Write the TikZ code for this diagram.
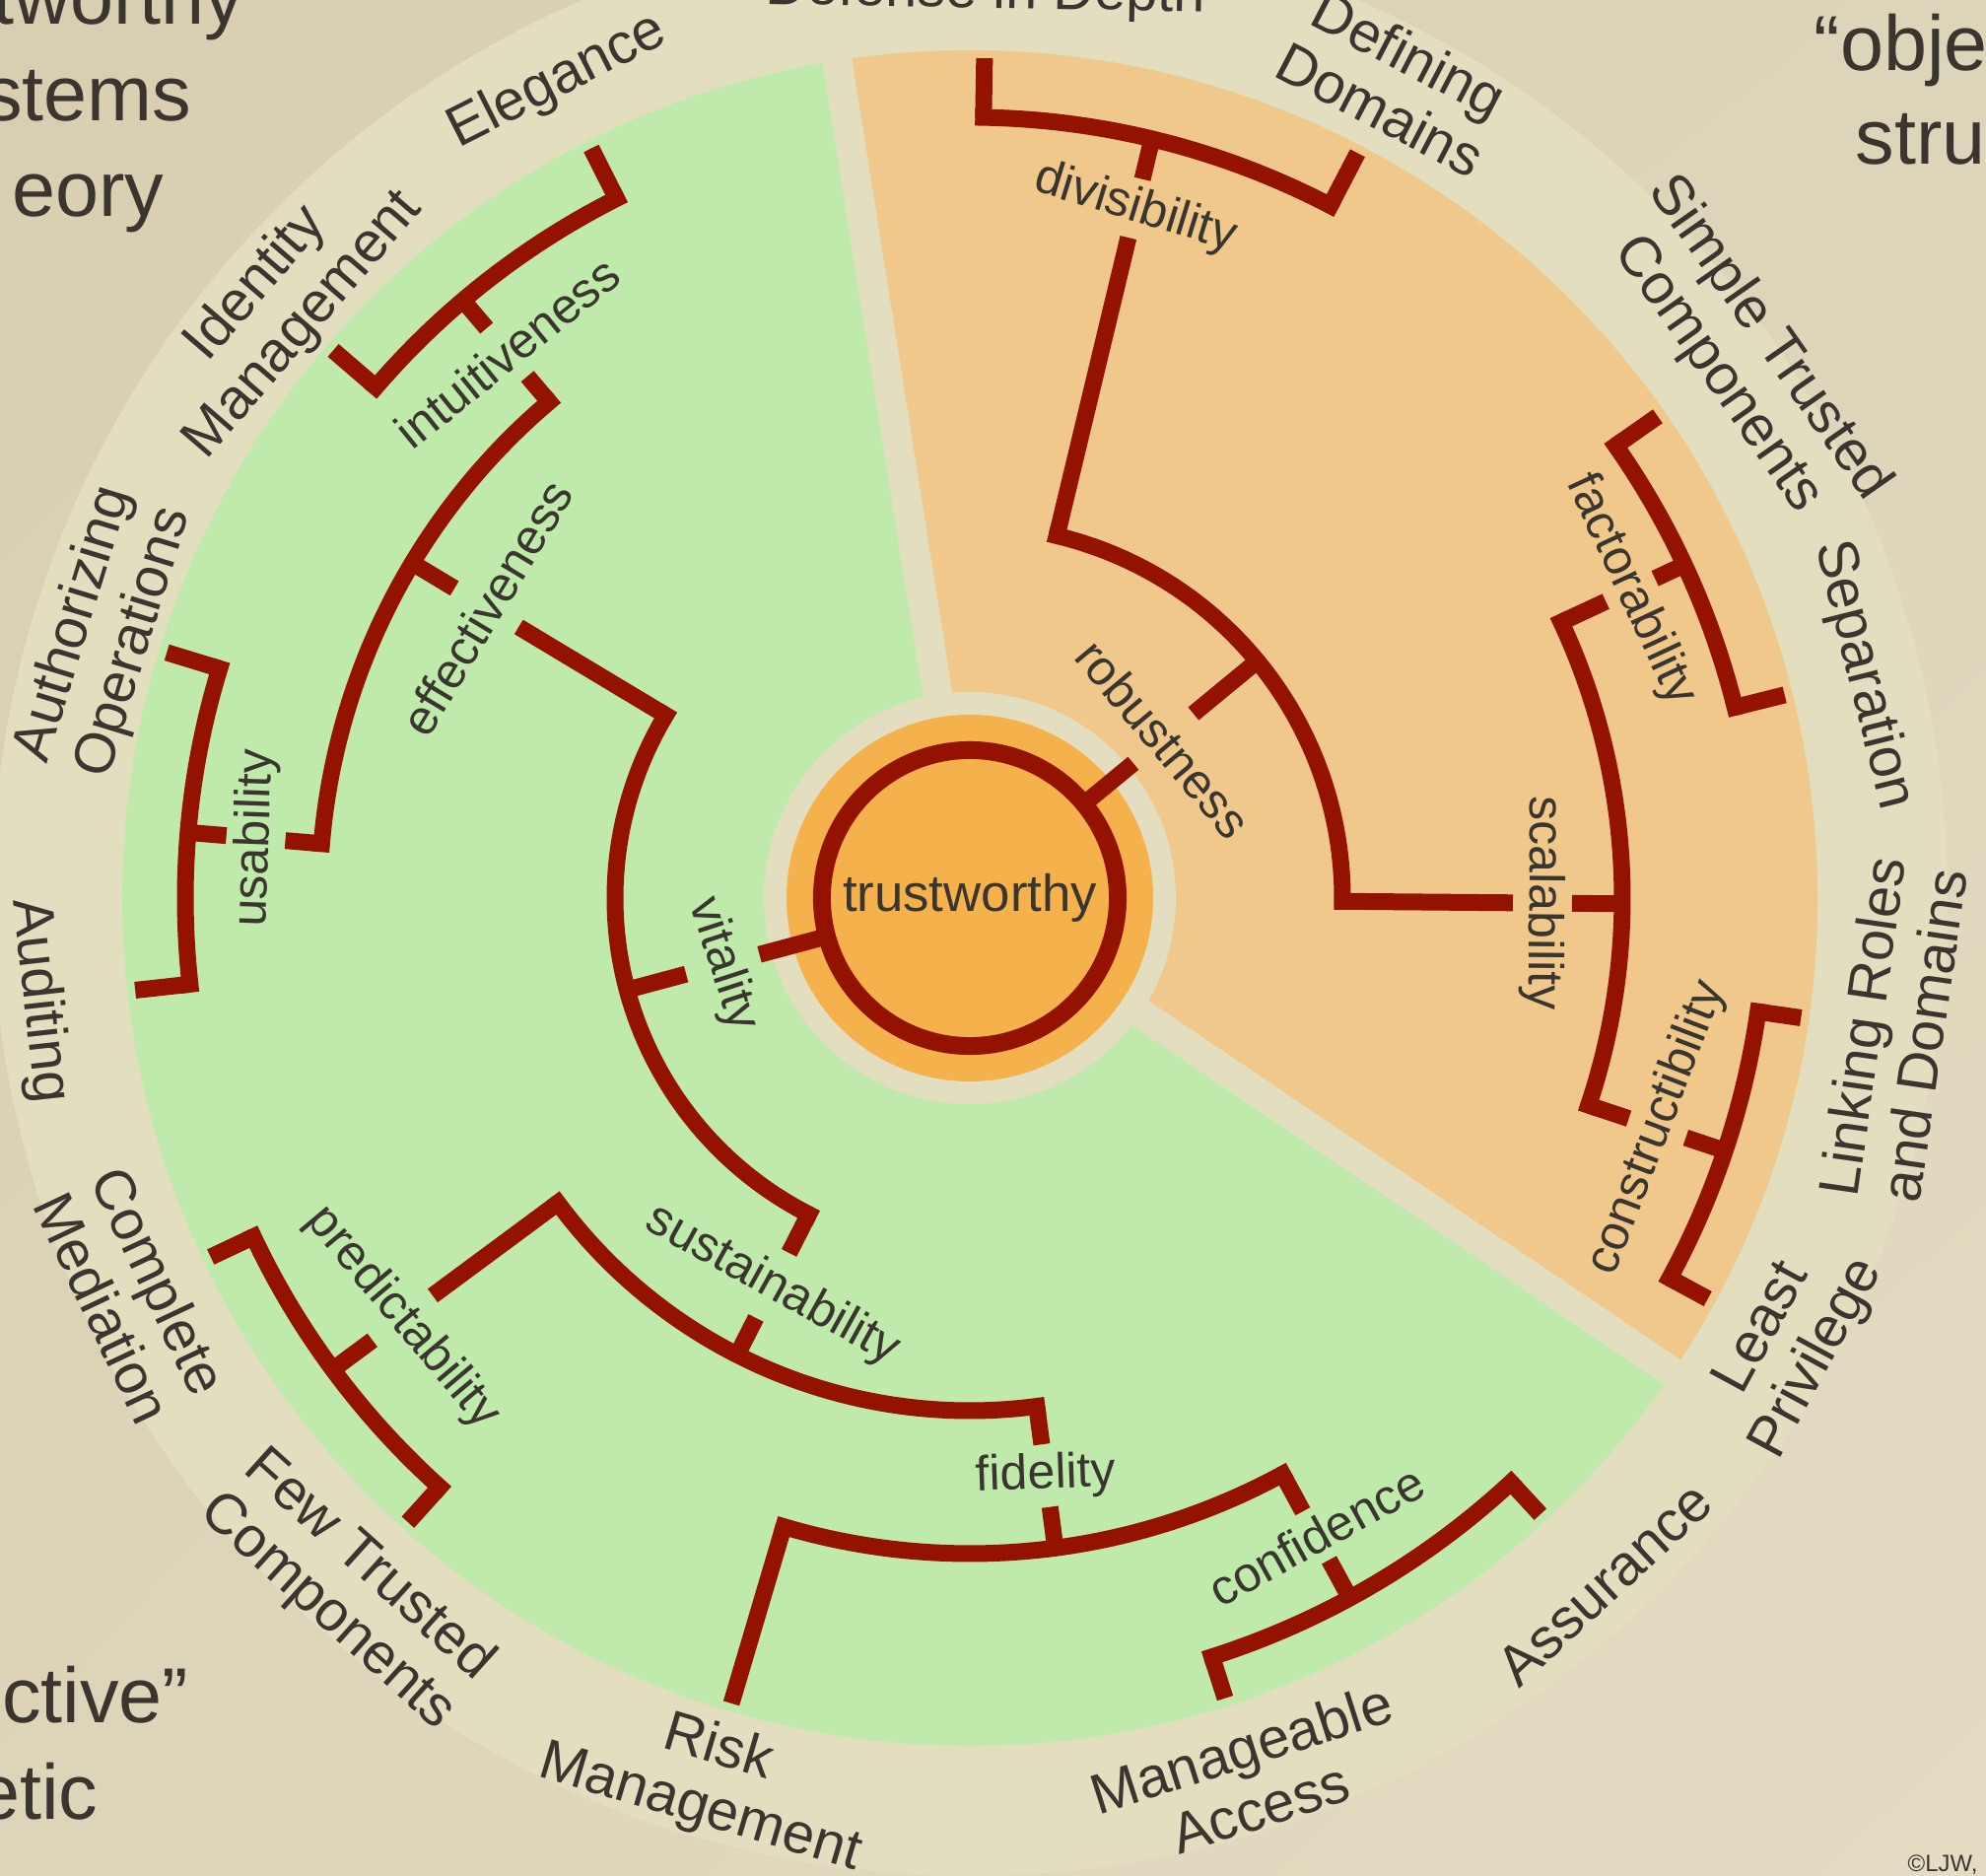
\documentclass[tikz,border=0pt]{standalone}
\usepackage{fontspec}
\setmainfont{Liberation Sans}
\usetikzlibrary{%
	calc,%
	shadings%
}

\definecolor{bgdark}{HTML}{D8CEB1}
\definecolor{bgmid}{HTML}{DDD5B9}
\definecolor{bglight}{HTML}{E3DCC3}
\definecolor{ringbeige}{HTML}{E4DEC0}
\definecolor{leafgreen}{HTML}{C0EAAC}
\definecolor{sectororange}{HTML}{F0C88C}
\definecolor{coreorange}{HTML}{F5B14B}
\definecolor{branchred}{HTML}{941200}
\definecolor{inkgray}{HTML}{3A362F}

\begin{document}
\begin{tikzpicture}[x=0.01cm,y=0.01cm,
	branch/.style={draw=branchred,line width=0.17cm},
	arcbranch/.style={branch,line cap=rect},
	outertext/.style={text=inkgray,font=\fontsize{16.4}{18}\selectfont,align=center,inner sep=0pt},
	innertext/.style={text=inkgray,font=\fontsize{14.2}{16}\selectfont,inner sep=0pt},
	slidetext/.style={text=inkgray,font=\fontsize{22.5}{26}\selectfont,inner sep=0pt}]
				% Frame
				\useasboundingbox (-984,-992) rectangle (1031,911);
				\shade[upper left=bgdark,upper right=bgmid,lower left=bgmid,lower right=bglight]
					(-984,-992) rectangle (1031,911);
				
				% Slide text behind the wheel
				\node[slidetext,anchor=base east] (tl1) at (-736,886) {tworthy};
				\node[slidetext,anchor=base east] (tl2) at (-789,788) {stems};
				\node[slidetext,anchor=base east] (tl3) at (-817,691) {eory};
				\node[slidetext,anchor=base west] (tr1) at (856,839) {“obje};
				\node[slidetext,anchor=base west] (tr2) at (898,744) {stru};
				\node[slidetext,anchor=base east] (bl1) at (-792,-836) {ctive”};
				\node[slidetext,anchor=base east] (bl2) at (-884,-934) {etic};
				\node[text=inkgray,font=\fontsize{6.8}{8}\selectfont,inner sep=0pt,anchor=base west] (copy) at (951,-987) {©LJW,};
				
				% Rings and sectors
				\fill[ringbeige] (0,0) circle (992);
				\fill[leafgreen] (0,0) circle (860);
				\fill[sectororange] (0,0) -- (-34:860) arc[start angle=-34,end angle=99,radius=860] -- cycle;
				\foreach \ang in {99,-34}
				\draw[ringbeige,line width=0.3cm] (0,0) -- (\ang:860);
				\fill[ringbeige] (0,0) circle (209);
				\fill[coreorange] (0,0) circle (186);
				
				% Root
				\node[circle,draw=branchred,line width=0.18cm,minimum size=3cm,inner sep=0pt,
					text=inkgray,font=\fontsize{15}{17}\selectfont] (trust) at (0,0) {trustworthy};
				
				% Branches: name/angle/parent radius/gap from/gap to/radius/arc from/arc to/label angle/label
				\foreach \nm/\ang/\rp/\ga/\gb/\rr/\angA/\angB/\rot/\txt in {
					rob/39.5/150/215/294/378/76.5/-0.5/-50/robustness,
					div/76.5/378/689/750/792/89/62.5/-17/divisibility,
					scal/-0.5/378/551/611/662/25/-18.5/-90.5/scalability,
					fact/25/662/712/767/800/35/14/-65/factorability,
					cons/-18.5/662/705/766/808/-8.2/-28.5/69/constructibility,
					vit/195/150/221/298/360/149/243/288/vitality,
					eff/149/360/534/610/660/130.3/175.2/59/effectiveness,
					usa/175.2/660/697/757/796/163/186.3/88/usability,
					intu/130.3/660/694/758/795/116.8/139.3/39/intuitiveness,
					sus/243/360/404/478/520/216.5/277.5/331/sustainability,
					pred/216.5/520/678/754/804/205.3/228/310/predictability,
					fid/277.5/520/559/623/665/253.5/298.5/2/fidelity,
					conf/298.5/665/708/764/808/287.7/312.8/29/confidence}
				{
					\coordinate (\nm-in) at (\ang:\rp);
					\coordinate (\nm-a) at (\ang:\ga);
					\coordinate (\nm-b) at (\ang:\gb);
					\coordinate (\nm-out) at (\ang:\rr);
					\coordinate (\nm-lo) at (\angA:\rr);
					\draw[branch] (\nm-in) -- (\nm-a);
					\draw[branch] (\nm-b) -- (\nm-out);
					\draw[arcbranch] (\nm-lo) arc[start angle=\angA,end angle=\angB,radius=\rr];
					\node[innertext,rotate=\rot] (\nm) at ($(\nm-a)!0.5!(\nm-b)$) {\txt};
				}
				
				% Leaves: name/angle/arc radius/label radius/label angle/label
				\foreach \nm/\ang/\rr/\lr/\rot/\txt in {
					defense/89/792/918/-1/{Defense in Depth},
					defining/62.5/792/934/-27.5/{Defining\\Domains},
					simple/35/800/958/-55/{Simple Trusted\\Components},
					separation/14/800/934/-76/{Separation},
					linking/-8.2/808/946/81.8/{Linking Roles\\and Domains},
					least/-28.5/808/948/61.5/{Least\\Privilege},
					assurance/312.8/808/948/42.8/{Assurance},
					manageable/287.7/808/937/17.7/{Manageable\\Access},
					risk/253.5/665/932/343.5/{Risk\\Management},
					few/228/804/943/318/{Few Trusted\\Components},
					complete/205.3/804/941/295.3/{Complete\\Mediation},
					auditing/186.3/796/950/276.3/{Auditing},
					authorizing/163/796/918/73/{Authorizing\\Operations},
					identity/139.3/795/923/49.3/{Identity\\Management},
					elegance/116.8/795/928/26.8/{Elegance}}
				{
					\coordinate (\nm-foot) at (\ang:\rr);
					\coordinate (\nm-tip) at (\ang:852);
					\draw[branch] (\nm-foot) -- (\nm-tip);
					\node[outertext,rotate=\rot] (\nm) at (\ang:\lr) {\txt};
				}
			\end{tikzpicture}
\end{document}
